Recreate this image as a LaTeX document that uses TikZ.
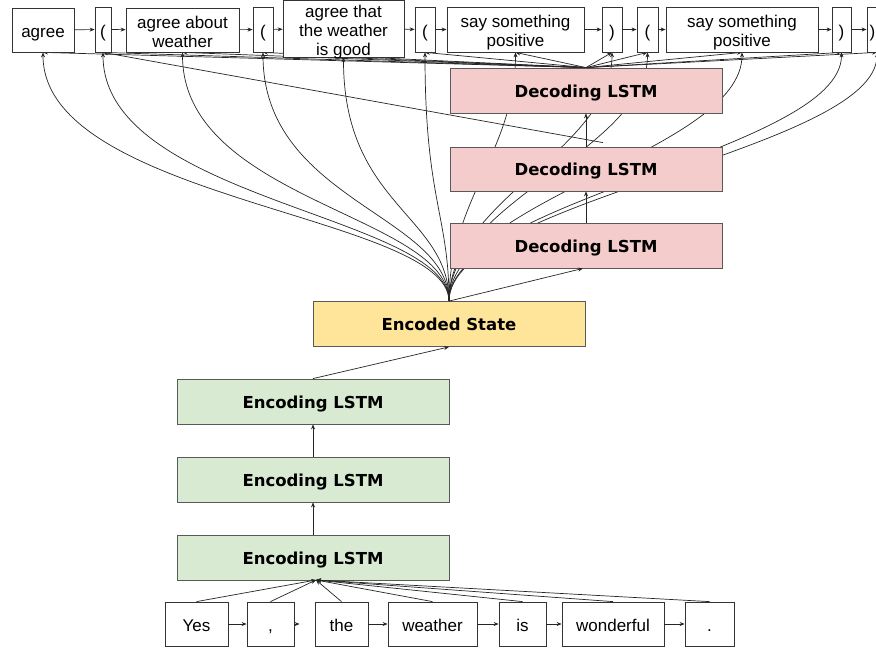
\documentclass[tikz,border=0pt]{standalone}
\usepackage{fontspec}
\setmainfont{Liberation Sans}
\newfontfamily\verdfont{DejaVu Sans}
\usetikzlibrary{arrows.meta,calc,backgrounds}
\newcommand{\boxtxt}[1]{\rule{0pt}{19pt}#1\rule[-4pt]{0pt}{4pt}}
\begin{document}
\begin{tikzpicture}[x=1pt,y=-1pt,
  wbox/.style={draw=black!80, fill=white, line width=0.8pt, inner sep=1pt, align=center,
    font=\fontsize{17}{19}\selectfont},
  lstm/.style={draw=black!65, line width=0.8pt, minimum width=272pt, inner sep=0pt,
    text height=13pt, text depth=0pt,
    font=\verdfont\bfseries\fontsize{16.5}{20}\selectfont},
  decbox/.style={lstm, fill=decpink},
  encbox/.style={lstm, fill=encgreen, minimum height=45pt},
  statebox/.style={lstm, fill=stateyellow, minimum height=45pt},
  conn/.style={draw=black!85, line width=0.7pt, -{Stealth[length=5pt,width=4pt]}},
]
\definecolor{decpink}{HTML}{F4CCCC}
\definecolor{encgreen}{HTML}{D9EAD3}
\definecolor{stateyellow}{HTML}{FFE599}

\useasboundingbox (0,0) rectangle (876,648);

% top row
\node[wbox, minimum width=62pt,  minimum height=44pt] (t1)  at (43,30)     {\boxtxt{agree}};
\node[wbox, minimum width=16pt,  minimum height=45pt] (t2)  at (103,29.5)  {\boxtxt{(}};
\node[wbox, minimum width=113pt, minimum height=44pt] (t3)  at (182.5,30)  {\boxtxt{agree about\\weather}};
\node[wbox, minimum width=20pt,  minimum height=45pt] (t4)  at (263,29.5)  {\boxtxt{(}};
\node[wbox, inner ysep=0pt, minimum width=121pt, minimum height=57pt] (t5)  at (343.5,28.5)
  {\rule{0pt}{17pt}agree that\\the weather\\\smash{is good}\rule[-2pt]{0pt}{2pt}};
\node[wbox, minimum width=20pt,  minimum height=45pt] (t6)  at (425,29.5)  {\boxtxt{(}};
\node[wbox, minimum width=137pt, minimum height=45pt] (t7)  at (515.5,29.5) {\boxtxt{say something\\positive}};
\node[wbox, minimum width=20pt,  minimum height=45pt] (t8)  at (612,29.5)  {\boxtxt{)}};
\node[wbox, minimum width=21pt,  minimum height=45pt] (t9)  at (647.5,29.5) {\boxtxt{(}};
\node[wbox, minimum width=152pt, minimum height=45pt] (t10) at (742,29.5)  {\boxtxt{say something\\positive}};
\node[wbox, minimum width=19pt,  minimum height=45pt] (t11) at (841.5,29.5) {\boxtxt{)}};
\node[wbox, minimum width=20pt,  minimum height=45pt] (t12) at (877,29.5)  {\boxtxt{)}\kern9pt};

% decoding
\node[decbox, minimum height=45pt] (d1) at (586,90.5) {Decoding LSTM};
\node[decbox, minimum height=44pt] (d2) at (586,169)  {Decoding LSTM};
\node[decbox, minimum height=45pt] (d3) at (586,245.5) {Decoding LSTM};

% state and encoders
\node[statebox] (enc) at (449,324) {Encoded State};
\node[encbox] (e3) at (313,401.5) {Encoding LSTM};
\node[encbox] (e2) at (313,479.5) {Encoding LSTM};
\node[encbox] (e1) at (313,557.5) {Encoding LSTM};

% bottom row
\node[wbox, minimum width=63pt,  minimum height=44pt] (b1) at (196.5,624) {\boxtxt{Yes}};
\node[wbox, minimum width=47pt,  minimum height=44pt] (b2) at (270.5,624) {\boxtxt{,}};
\node[wbox, minimum width=53pt,  minimum height=44pt] (b3) at (341.5,624) {\boxtxt{the}};
\node[wbox, minimum width=89pt,  minimum height=44pt] (b4) at (432.5,624) {\boxtxt{weather}};
\node[wbox, minimum width=47pt,  minimum height=44pt] (b5) at (522.5,624) {\boxtxt{is}};
\node[wbox, minimum width=102pt, minimum height=44pt] (b6) at (613,624)   {\boxtxt{wonderful}};
\node[wbox, minimum width=49pt,  minimum height=44pt] (b7) at (709.5,624) {\boxtxt{.}};

\coordinate (conv) at (316,580);
\coordinate (d2tip) at ([xshift=17pt,yshift=4pt]d2.north);

\begin{scope}[on background layer]
  \fill[white] (0,0) rectangle (876,648);
  % curves from the encoded state to every output token
  \foreach \t in {t1,t2,t3,t4,t5,t6}{
    \draw[conn] (enc.north) .. controls ($(enc.north)+(0,-86)$) and ($(\t.south)+(0,148)$) .. (\t.south);
  }
  \foreach \t in {t7,t8,t9,t10,t11,t12}{
    \draw[conn] (enc.north) .. controls ($(enc.north)+(0,-101)$) and ($(\t.south)+(0,98)$) .. (\t.south);
  }
  % lines from the top decoder to every output token
  \foreach \t in {t1,t2,t3,t4,t5,t6,t7,t8,t9,t10,t11,t12}{
    \draw[conn] (d1.north) -- (\t.south);
  }
  \draw[conn] (d2tip) -- (t2.south);
\end{scope}

% chain of output tokens
\foreach \a/\b in {t1/t2,t2/t3,t3/t4,t4/t5,t5/t6,t6/t7,t7/t8,t8/t9,t9/t10,t10/t11,t11/t12}{
  \draw[conn] (\a) -- (\b);
}

% decoder and encoder stacks
\draw[conn] (enc.north) -- ([xshift=-3pt]d3.south);
\draw[conn] (d3) -- (d2);
\draw[conn] (d2) -- (d1);
\draw[conn] (e3.north) -- (enc.south);
\draw[conn] (e2) -- (e3);
\draw[conn] (e1) -- (e2);

% input tokens
\foreach \b in {b1,b2,b3,b4,b5,b6,b7}{
  \draw[conn] (\b.north) -- (conv);
}
\draw[conn] (b1) -- (b2);
\draw[conn, shorten >=15pt] (b2) -- (b3);
\draw[conn] (b3) -- (b4);
\draw[conn] (b4) -- (b5);
\draw[conn] (b5) -- (b6);
\draw[conn] (b6) -- (b7);
\end{tikzpicture}
\end{document}
